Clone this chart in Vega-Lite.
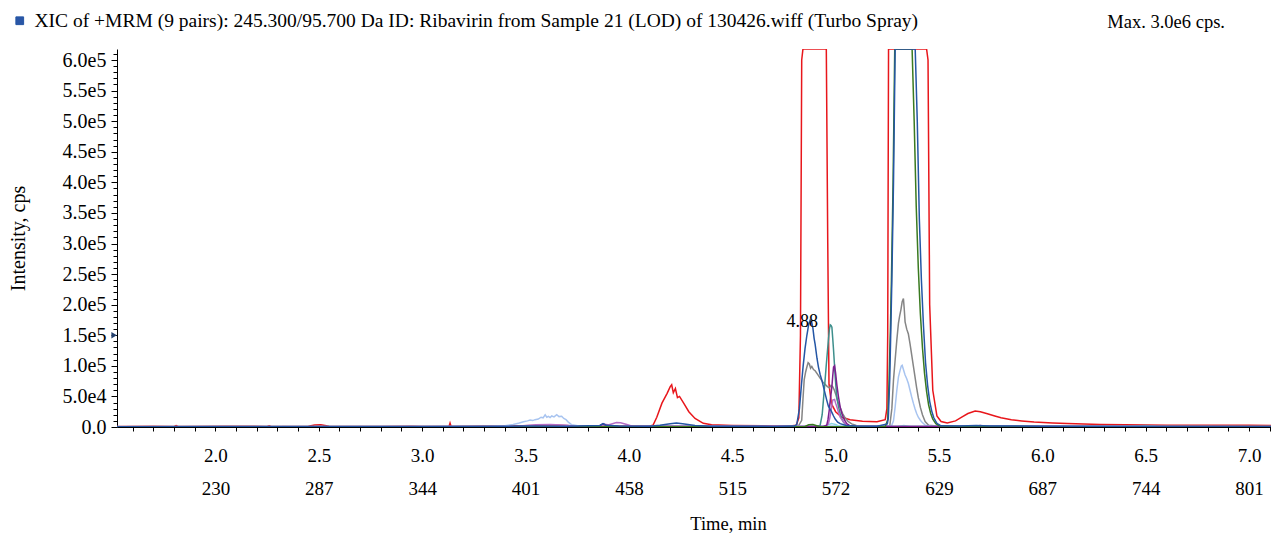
{
  "$schema": "https://vega.github.io/schema/vega-lite/v6.json",
  "autosize": {"type": "none"},
  "padding": {"left": 117, "top": 49, "right": 0, "bottom": 107},
  "width": 1154,
  "height": 378,
  "background": "white",
  "config": {
    "view": {"stroke": null},
    "font": "Liberation Serif",
    "axis": {"labelFont": "Liberation Serif", "titleFont": "Liberation Serif", "labelColor": "black", "titleColor": "black", "titleFontWeight": "normal", "domainColor": "black", "tickColor": "black", "grid": false, "labelOverlap": false}
  },
  "title": {"text": "Max. 3.0e6 cps.", "anchor": "end", "dx": -46, "dy": 20, "offset": -15, "baseline": "alphabetic", "font": "Liberation Serif", "fontSize": 18.5, "fontWeight": "normal", "color": "black"},
  "datasets": {
    "traces": [
      {"s":"s1","t":1.524,"y":800},{"s":"s1","t":1.7,"y":1100},{"s":"s1","t":1.8,"y":900},{"s":"s1","t":1.81,"y":2400},{"s":"s1","t":1.82,"y":900},{"s":"s1","t":2.05,"y":1200},{"s":"s1","t":2.25,"y":1000},{"s":"s1","t":2.26,"y":2000},{"s":"s1","t":2.27,"y":900},{"s":"s1","t":2.45,"y":1100},{"s":"s1","t":2.48,"y":3200},{"s":"s1","t":2.51,"y":3500},{"s":"s1","t":2.55,"y":1300},{"s":"s1","t":2.8,"y":900},{"s":"s1","t":2.95,"y":1400},{"s":"s1","t":3.0,"y":900},{"s":"s1","t":3.13,"y":900},{"s":"s1","t":3.135,"y":6500},{"s":"s1","t":3.14,"y":1000},{"s":"s1","t":3.4,"y":1500},{"s":"s1","t":3.55,"y":2500},{"s":"s1","t":3.65,"y":2800},{"s":"s1","t":3.75,"y":1800},{"s":"s1","t":3.9,"y":2200},{"s":"s1","t":4.0,"y":1200},{"s":"s1","t":4.1,"y":1500},{"s":"s1","t":4.117,"y":3000},{"s":"s1","t":4.135,"y":16000},{"s":"s1","t":4.16,"y":39000},{"s":"s1","t":4.185,"y":55000},{"s":"s1","t":4.2,"y":66000},{"s":"s1","t":4.207,"y":69000},{"s":"s1","t":4.215,"y":56000},{"s":"s1","t":4.225,"y":63000},{"s":"s1","t":4.235,"y":48000},{"s":"s1","t":4.245,"y":50000},{"s":"s1","t":4.265,"y":39000},{"s":"s1","t":4.29,"y":25000},{"s":"s1","t":4.32,"y":14000},{"s":"s1","t":4.36,"y":6000},{"s":"s1","t":4.4,"y":3500},{"s":"s1","t":4.5,"y":2500},{"s":"s1","t":4.65,"y":2000},{"s":"s1","t":4.78,"y":1800},{"s":"s1","t":4.81,"y":3000},{"s":"s1","t":4.822,"y":15000},{"s":"s1","t":4.83,"y":150000},{"s":"s1","t":4.836,"y":600000},{"s":"s1","t":4.842,"y":1200000},{"s":"s1","t":4.9,"y":1600000},{"s":"s1","t":4.955,"y":900000},{"s":"s1","t":4.962,"y":300000},{"s":"s1","t":4.968,"y":70000},{"s":"s1","t":4.98,"y":38000},{"s":"s1","t":5.0,"y":25000},{"s":"s1","t":5.03,"y":16000},{"s":"s1","t":5.07,"y":12000},{"s":"s1","t":5.13,"y":9500},{"s":"s1","t":5.2,"y":8500},{"s":"s1","t":5.24,"y":12000},{"s":"s1","t":5.248,"y":30000},{"s":"s1","t":5.252,"y":150000},{"s":"s1","t":5.256,"y":800000},{"s":"s1","t":5.3,"y":2600000},{"s":"s1","t":5.35,"y":3000000},{"s":"s1","t":5.44,"y":1500000},{"s":"s1","t":5.447,"y":600000},{"s":"s1","t":5.455,"y":200000},{"s":"s1","t":5.47,"y":60000},{"s":"s1","t":5.49,"y":18000},{"s":"s1","t":5.51,"y":9000},{"s":"s1","t":5.54,"y":6500},{"s":"s1","t":5.58,"y":10000},{"s":"s1","t":5.61,"y":16000},{"s":"s1","t":5.64,"y":22000},{"s":"s1","t":5.675,"y":26000},{"s":"s1","t":5.7,"y":25000},{"s":"s1","t":5.73,"y":22000},{"s":"s1","t":5.77,"y":18000},{"s":"s1","t":5.8,"y":15000},{"s":"s1","t":5.85,"y":12000},{"s":"s1","t":5.9,"y":10000},{"s":"s1","t":5.96,"y":8000},{"s":"s1","t":6.05,"y":6500},{"s":"s1","t":6.12,"y":5600},{"s":"s1","t":6.2,"y":4800},{"s":"s1","t":6.28,"y":4000},{"s":"s1","t":6.4,"y":3500},{"s":"s1","t":6.6,"y":2800},{"s":"s1","t":6.8,"y":2700},{"s":"s1","t":7.0,"y":2800},{"s":"s1","t":7.106,"y":2600},

      {"s":"s2","t":1.524,"y":500},{"s":"s2","t":3.5,"y":800},{"s":"s2","t":4.2,"y":1500},{"s":"s2","t":4.7,"y":800},{"s":"s2","t":4.82,"y":1500},{"s":"s2","t":4.836,"y":11000},{"s":"s2","t":4.842,"y":45000},{"s":"s2","t":4.848,"y":77000},{"s":"s2","t":4.855,"y":90000},{"s":"s2","t":4.861,"y":98000},{"s":"s2","t":4.867,"y":105000},{"s":"s2","t":4.873,"y":103000},{"s":"s2","t":4.879,"y":96000},{"s":"s2","t":4.885,"y":99000},{"s":"s2","t":4.893,"y":94000},{"s":"s2","t":4.901,"y":92000},{"s":"s2","t":4.913,"y":86000},{"s":"s2","t":4.925,"y":80000},{"s":"s2","t":4.937,"y":74000},{"s":"s2","t":4.949,"y":70000},{"s":"s2","t":4.96,"y":66000},{"s":"s2","t":4.97,"y":64000},{"s":"s2","t":4.978,"y":68000},{"s":"s2","t":4.986,"y":66000},{"s":"s2","t":4.994,"y":60000},{"s":"s2","t":5.002,"y":52000},{"s":"s2","t":5.01,"y":42000},{"s":"s2","t":5.022,"y":32000},{"s":"s2","t":5.034,"y":22000},{"s":"s2","t":5.046,"y":15000},{"s":"s2","t":5.06,"y":9000},{"s":"s2","t":5.078,"y":5000},{"s":"s2","t":5.1,"y":2500},{"s":"s2","t":5.2,"y":1200},{"s":"s2","t":5.262,"y":2000},{"s":"s2","t":5.272,"y":30000},{"s":"s2","t":5.28,"y":77000},{"s":"s2","t":5.288,"y":110000},{"s":"s2","t":5.296,"y":142000},{"s":"s2","t":5.304,"y":170000},{"s":"s2","t":5.31,"y":182000},{"s":"s2","t":5.316,"y":192000},{"s":"s2","t":5.322,"y":205000},{"s":"s2","t":5.328,"y":210000},{"s":"s2","t":5.332,"y":193000},{"s":"s2","t":5.336,"y":172000},{"s":"s2","t":5.344,"y":160000},{"s":"s2","t":5.352,"y":152000},{"s":"s2","t":5.36,"y":136000},{"s":"s2","t":5.368,"y":118000},{"s":"s2","t":5.376,"y":100000},{"s":"s2","t":5.384,"y":82000},{"s":"s2","t":5.392,"y":64000},{"s":"s2","t":5.4,"y":48000},{"s":"s2","t":5.41,"y":32000},{"s":"s2","t":5.42,"y":20000},{"s":"s2","t":5.433,"y":9000},{"s":"s2","t":5.45,"y":3000},{"s":"s2","t":5.5,"y":1200},{"s":"s2","t":6.4,"y":1000},{"s":"s2","t":6.5,"y":2500},{"s":"s2","t":6.55,"y":1200},{"s":"s2","t":7.106,"y":800},

      {"s":"s3","t":1.524,"y":800},{"s":"s3","t":3.3,"y":1000},{"s":"s3","t":3.4,"y":2000},{"s":"s3","t":3.44,"y":4000},{"s":"s3","t":3.47,"y":6500},{"s":"s3","t":3.49,"y":8500},{"s":"s3","t":3.51,"y":10000},{"s":"s3","t":3.522,"y":11500},{"s":"s3","t":3.535,"y":10500},{"s":"s3","t":3.546,"y":12000},{"s":"s3","t":3.562,"y":13000},{"s":"s3","t":3.575,"y":16000},{"s":"s3","t":3.585,"y":15000},{"s":"s3","t":3.595,"y":20000},{"s":"s3","t":3.603,"y":16000},{"s":"s3","t":3.611,"y":17500},{"s":"s3","t":3.619,"y":15500},{"s":"s3","t":3.627,"y":18000},{"s":"s3","t":3.638,"y":16500},{"s":"s3","t":3.651,"y":20000},{"s":"s3","t":3.662,"y":17000},{"s":"s3","t":3.675,"y":17500},{"s":"s3","t":3.685,"y":14000},{"s":"s3","t":3.696,"y":12000},{"s":"s3","t":3.707,"y":8000},{"s":"s3","t":3.724,"y":3500},{"s":"s3","t":3.76,"y":1500},{"s":"s3","t":3.9,"y":1000},{"s":"s3","t":4.98,"y":1500},{"s":"s3","t":5.27,"y":1500},{"s":"s3","t":5.28,"y":10000},{"s":"s3","t":5.288,"y":33000},{"s":"s3","t":5.296,"y":60000},{"s":"s3","t":5.304,"y":82000},{"s":"s3","t":5.312,"y":93000},{"s":"s3","t":5.318,"y":100000},{"s":"s3","t":5.322,"y":101000},{"s":"s3","t":5.328,"y":94000},{"s":"s3","t":5.336,"y":85000},{"s":"s3","t":5.344,"y":79000},{"s":"s3","t":5.352,"y":71000},{"s":"s3","t":5.36,"y":60000},{"s":"s3","t":5.368,"y":49000},{"s":"s3","t":5.376,"y":39000},{"s":"s3","t":5.384,"y":30000},{"s":"s3","t":5.392,"y":22000},{"s":"s3","t":5.4,"y":16000},{"s":"s3","t":5.41,"y":11000},{"s":"s3","t":5.417,"y":8000},{"s":"s3","t":5.433,"y":3000},{"s":"s3","t":5.46,"y":1200},{"s":"s3","t":7.106,"y":800},

      {"s":"s4","t":1.524,"y":300},{"s":"s4","t":4.94,"y":500},{"s":"s4","t":4.96,"y":3000},{"s":"s4","t":4.98,"y":5500},{"s":"s4","t":5.0,"y":4000},{"s":"s4","t":5.02,"y":1000},{"s":"s4","t":5.3,"y":800},{"s":"s4","t":5.33,"y":2500},{"s":"s4","t":5.36,"y":800},{"s":"s4","t":7.106,"y":300},

      {"s":"s5","t":1.524,"y":400},{"s":"s5","t":4.9,"y":600},{"s":"s5","t":4.925,"y":2500},{"s":"s5","t":4.935,"y":20000},{"s":"s5","t":4.941,"y":44000},{"s":"s5","t":4.948,"y":72000},{"s":"s5","t":4.954,"y":98000},{"s":"s5","t":4.96,"y":122000},{"s":"s5","t":4.965,"y":142000},{"s":"s5","t":4.97,"y":160000},{"s":"s5","t":4.974,"y":167000},{"s":"s5","t":4.978,"y":166000},{"s":"s5","t":4.982,"y":163000},{"s":"s5","t":4.986,"y":145000},{"s":"s5","t":4.99,"y":126000},{"s":"s5","t":4.994,"y":104000},{"s":"s5","t":4.998,"y":82000},{"s":"s5","t":5.002,"y":64000},{"s":"s5","t":5.006,"y":49000},{"s":"s5","t":5.014,"y":33000},{"s":"s5","t":5.022,"y":22000},{"s":"s5","t":5.03,"y":14000},{"s":"s5","t":5.038,"y":8000},{"s":"s5","t":5.05,"y":3000},{"s":"s5","t":5.08,"y":800},{"s":"s5","t":7.106,"y":500},

      {"s":"s6","t":1.524,"y":500},{"s":"s6","t":3.45,"y":700},{"s":"s6","t":3.55,"y":3500},{"s":"s6","t":3.62,"y":4000},{"s":"s6","t":3.7,"y":3000},{"s":"s6","t":3.75,"y":800},{"s":"s6","t":3.86,"y":1000},{"s":"s6","t":3.88,"y":4500},{"s":"s6","t":3.9,"y":3500},{"s":"s6","t":3.94,"y":7500},{"s":"s6","t":3.96,"y":7000},{"s":"s6","t":3.99,"y":4000},{"s":"s6","t":4.02,"y":1000},{"s":"s6","t":4.95,"y":1000},{"s":"s6","t":4.965,"y":5000},{"s":"s6","t":4.972,"y":15000},{"s":"s6","t":4.978,"y":27000},{"s":"s6","t":4.986,"y":44000},{"s":"s6","t":4.995,"y":45000},{"s":"s6","t":5.0,"y":39000},{"s":"s6","t":5.006,"y":33000},{"s":"s6","t":5.014,"y":24000},{"s":"s6","t":5.022,"y":16000},{"s":"s6","t":5.034,"y":10000},{"s":"s6","t":5.046,"y":5600},{"s":"s6","t":5.06,"y":2500},{"s":"s6","t":5.09,"y":800},{"s":"s6","t":7.106,"y":600},

      {"s":"s7","t":1.524,"y":400},{"s":"s7","t":3.85,"y":500},{"s":"s7","t":3.875,"y":5000},{"s":"s7","t":3.89,"y":3000},{"s":"s7","t":3.92,"y":1000},{"s":"s7","t":4.94,"y":800},{"s":"s7","t":4.957,"y":3000},{"s":"s7","t":4.963,"y":12000},{"s":"s7","t":4.969,"y":27000},{"s":"s7","t":4.975,"y":46000},{"s":"s7","t":4.982,"y":66000},{"s":"s7","t":4.986,"y":83000},{"s":"s7","t":4.99,"y":98000},{"s":"s7","t":4.995,"y":100000},{"s":"s7","t":5.0,"y":88000},{"s":"s7","t":5.006,"y":69000},{"s":"s7","t":5.014,"y":49000},{"s":"s7","t":5.022,"y":33000},{"s":"s7","t":5.03,"y":22000},{"s":"s7","t":5.042,"y":12000},{"s":"s7","t":5.054,"y":5600},{"s":"s7","t":5.07,"y":2000},{"s":"s7","t":5.1,"y":800},{"s":"s7","t":5.67,"y":800},{"s":"s7","t":5.7,"y":2500},{"s":"s7","t":5.73,"y":1000},{"s":"s7","t":7.106,"y":500},

      {"s":"s8","t":1.524,"y":300},{"s":"s8","t":4.85,"y":500},{"s":"s8","t":4.87,"y":3500},{"s":"s8","t":4.89,"y":4000},{"s":"s8","t":4.92,"y":800},{"s":"s8","t":5.24,"y":500},{"s":"s8","t":5.252,"y":12000},{"s":"s8","t":5.258,"y":70000},{"s":"s8","t":5.265,"y":160000},{"s":"s8","t":5.27,"y":240000},{"s":"s8","t":5.278,"y":400000},{"s":"s8","t":5.286,"y":620000},{"s":"s8","t":5.3,"y":950000},{"s":"s8","t":5.33,"y":1300000},{"s":"s8","t":5.355,"y":1000000},{"s":"s8","t":5.37,"y":700000},{"s":"s8","t":5.38,"y":500000},{"s":"s8","t":5.39,"y":360000},{"s":"s8","t":5.4,"y":260000},{"s":"s8","t":5.41,"y":185000},{"s":"s8","t":5.42,"y":130000},{"s":"s8","t":5.43,"y":88000},{"s":"s8","t":5.44,"y":58000},{"s":"s8","t":5.45,"y":36000},{"s":"s8","t":5.46,"y":22000},{"s":"s8","t":5.47,"y":13000},{"s":"s8","t":5.485,"y":5500},{"s":"s8","t":5.5,"y":2000},{"s":"s8","t":5.55,"y":600},{"s":"s8","t":7.106,"y":400},

      {"s":"s9","t":1.524,"y":600},{"s":"s9","t":2.0,"y":700},{"s":"s9","t":3.0,"y":800},{"s":"s9","t":3.5,"y":1500},{"s":"s9","t":3.7,"y":1200},{"s":"s9","t":3.86,"y":2500},{"s":"s9","t":3.875,"y":5500},{"s":"s9","t":3.89,"y":3000},{"s":"s9","t":3.95,"y":1500},{"s":"s9","t":4.1,"y":1200},{"s":"s9","t":4.15,"y":3000},{"s":"s9","t":4.2,"y":5500},{"s":"s9","t":4.23,"y":6500},{"s":"s9","t":4.26,"y":5500},{"s":"s9","t":4.32,"y":2500},{"s":"s9","t":4.4,"y":1200},{"s":"s9","t":4.7,"y":1000},{"s":"s9","t":4.8,"y":1500},{"s":"s9","t":4.812,"y":4000},{"s":"s9","t":4.825,"y":30000},{"s":"s9","t":4.835,"y":70000},{"s":"s9","t":4.843,"y":100000},{"s":"s9","t":4.852,"y":128000},{"s":"s9","t":4.861,"y":150000},{"s":"s9","t":4.87,"y":168000},{"s":"s9","t":4.877,"y":175000},{"s":"s9","t":4.884,"y":172000},{"s":"s9","t":4.89,"y":162000},{"s":"s9","t":4.896,"y":145000},{"s":"s9","t":4.901,"y":135000},{"s":"s9","t":4.91,"y":112000},{"s":"s9","t":4.917,"y":98000},{"s":"s9","t":4.925,"y":86000},{"s":"s9","t":4.933,"y":77000},{"s":"s9","t":4.941,"y":66000},{"s":"s9","t":4.949,"y":55000},{"s":"s9","t":4.957,"y":44000},{"s":"s9","t":4.965,"y":34000},{"s":"s9","t":4.974,"y":29000},{"s":"s9","t":4.982,"y":24000},{"s":"s9","t":4.99,"y":18000},{"s":"s9","t":4.998,"y":13000},{"s":"s9","t":5.01,"y":8000},{"s":"s9","t":5.022,"y":5500},{"s":"s9","t":5.05,"y":2500},{"s":"s9","t":5.1,"y":1500},{"s":"s9","t":5.2,"y":1200},{"s":"s9","t":5.25,"y":5000},{"s":"s9","t":5.255,"y":15000},{"s":"s9","t":5.262,"y":80000},{"s":"s9","t":5.267,"y":160000},{"s":"s9","t":5.272,"y":240000},{"s":"s9","t":5.28,"y":400000},{"s":"s9","t":5.288,"y":620000},{"s":"s9","t":5.3,"y":900000},{"s":"s9","t":5.33,"y":1400000},{"s":"s9","t":5.35,"y":1300000},{"s":"s9","t":5.37,"y":1000000},{"s":"s9","t":5.385,"y":700000},{"s":"s9","t":5.395,"y":500000},{"s":"s9","t":5.405,"y":340000},{"s":"s9","t":5.415,"y":240000},{"s":"s9","t":5.425,"y":165000},{"s":"s9","t":5.435,"y":105000},{"s":"s9","t":5.445,"y":68000},{"s":"s9","t":5.455,"y":42000},{"s":"s9","t":5.465,"y":26000},{"s":"s9","t":5.475,"y":15000},{"s":"s9","t":5.49,"y":6000},{"s":"s9","t":5.51,"y":2000},{"s":"s9","t":5.6,"y":1500},{"s":"s9","t":5.68,"y":2500},{"s":"s9","t":5.75,"y":1800},{"s":"s9","t":6.0,"y":1200},{"s":"s9","t":6.5,"y":1000},{"s":"s9","t":7.106,"y":900}
    ],
    "annot": [{"t": 4.877, "y": 175000, "label": "4.88"}],
    "marker": [{"t": 1.51, "y": 150000}]
  },
  "encoding": {
    "x": {
      "field": "t", "type": "quantitative",
      "scale": {"domain": [1.524, 7.106], "nice": false, "zero": false},
      "axis": {
        "title": "Time, min",
        "titleFontSize": 18.5,
        "titleX": 611, "titleY": 96, "titleBaseline": "middle",
        "values": [1.6,1.7,1.8,1.9,2.0,2.1,2.2,2.3,2.4,2.5,2.6,2.7,2.8,2.9,3.0,3.1,3.2,3.3,3.4,3.5,3.6,3.7,3.8,3.9,4.0,4.1,4.2,4.3,4.4,4.5,4.6,4.7,4.8,4.9,5.0,5.1,5.2,5.3,5.4,5.5,5.6,5.7,5.8,5.9,6.0,6.1,6.2,6.3,6.4,6.5,6.6,6.7,6.8,6.9,7.0,7.1],
        "labelExpr": "abs(datum.value*2-round(datum.value*2)) < 0.001 ? [format(datum.value, '.1f'), ['230','287','344','401','458','515','572','629','687','744','801'][round(datum.value*2)-4]] : ''",
        "labelFontSize": 19,
        "labelLineHeight": 33,
        "labelBaseline": "top",
        "labelPadding": 15,
        "labelOverlap": false,
        "labelBound": false,
        "labelFlush": false,
        "tickSize": 4,
        "domainWidth": 1
      }
    },
    "y": {
      "field": "y", "type": "quantitative",
      "scale": {"domain": [0, 618000], "nice": false, "clamp": true},
      "axis": {
        "title": "Intensity, cps",
        "titleFontSize": 20,
        "titleX": -99, "titleY": 189, "titleAngle": -90, "titleAlign": "center", "titleBaseline": "middle",
        "values": [0,10000,20000,30000,40000,50000,60000,70000,80000,90000,100000,110000,120000,130000,140000,150000,160000,170000,180000,190000,200000,210000,220000,230000,240000,250000,260000,270000,280000,290000,300000,310000,320000,330000,340000,350000,360000,370000,380000,390000,400000,410000,420000,430000,440000,450000,460000,470000,480000,490000,500000,510000,520000,530000,540000,550000,560000,570000,580000,590000,600000,610000],
        "labelExpr": "datum.value % 50000 == 0 ? (datum.value == 0 ? '0.0' : replace(format(datum.value, '.1e'), '+', '')) : ''",
        "labelFontSize": 20,
        "labelPadding": 5,
        "labelOverlap": false,
        "labelBound": false,
        "labelFlush": false,
        "tickSize": {"condition": {"test": "datum.value % 50000 == 0", "value": 6}, "value": 4},
        "domainWidth": 1
      }
    }
  },
  "layer": [
    {
      "data": {"name": "traces"},
      "mark": {"type": "line", "strokeWidth": 1.5, "clip": true, "interpolate": "linear"},
      "encoding": {
        "color": {
          "field": "s", "type": "nominal",
          "scale": {
            "domain": ["s1","s2","s3","s4","s5","s6","s7","s8","s9"],
            "range": ["#e8161b","#858585","#a8c4f0","#8dd6e6","#3d8f8c","#b56cc5","#7a1f8f","#3a7a20","#2456a5"]
          },
          "legend": {
            "values": ["s9"],
            "orient": "none",
            "legendX": -107,
            "legendY": -38,
            "title": null,
            "padding": 0,
            "symbolType": "square",
            "symbolSize": 60,
            "symbolFillColor": "#2a56a6",
            "symbolStrokeColor": "#1a2550",
            "symbolStrokeWidth": 1,
            "symbolOpacity": 1,
            "labelFont": "Liberation Serif",
            "labelFontSize": 19.5,
            "labelColor": "black",
            "labelLimit": 2000,
            "labelOffset": 5,
            "labelExpr": "'XIC of +MRM (9 pairs): 245.300/95.700 Da ID: Ribavirin from Sample 21 (LOD) of 130426.wiff (Turbo Spray)'"
          }
        }
      }
    },
    {
      "data": {"name": "annot"},
      "mark": {"type": "text", "font": "Liberation Serif", "fontSize": 18, "color": "black", "dx": -8, "dy": 2, "baseline": "middle", "align": "center"},
      "encoding": {
        "text": {"field": "label", "type": "nominal"}
      }
    },
    {
      "data": {"name": "marker"},
      "mark": {"type": "point", "shape": "triangle-right", "filled": true, "size": 40, "color": "#24406e", "opacity": 1}
    }
  ]
}
